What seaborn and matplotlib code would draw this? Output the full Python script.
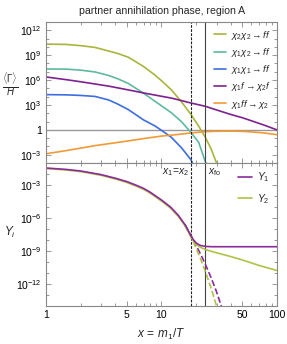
import numpy as np
import pandas as pd
import matplotlib
matplotlib.use('Agg')
import matplotlib.pyplot as plt
import seaborn as sns

# ---- top panel: rates over Hubble (log10 values) ----
x_22 = [1, 1.5, 2, 2.66, 3.5, 4.2, 5.16, 7, 8.79, 10, 12.2, 15, 18, 21, 24, 27, 30, 31]
r_22 = [10.34, 10.3, 10.15, 9.94, 9.5, 9.2, 8.76, 7.64, 6.6, 5.93, 4.82, 3.33, 1.86, 0.45, -0.9, -2.33, -4.0, -4.6]

x_12 = [1, 1.5, 2, 2.66, 3.5, 4.2, 5.16, 7, 8.79, 10, 12.2, 15, 18, 21, 24, 25]
r_12 = [7.34, 7.32, 7.2, 6.98, 6.55, 6.15, 5.6, 4.42, 3.45, 2.9, 2.06, 0.95, -0.31, -1.5, -3.85, -4.5]

x_11 = [1, 1.5, 2, 2.66, 3.5, 4.2, 5.16, 7, 8.79, 10, 12.2, 15, 18, 19]
r_11 = [4.25, 4.22, 4.15, 4.03, 3.6, 3.1, 2.45, 1.2, 0.47, -0.05, -0.9, -2.2, -3.6, -4.3]

x_conv = [1, 1.5, 2, 2.66, 3.5, 5.16, 7, 10, 12.2, 15, 18, 24, 30, 40, 50, 60, 70, 80, 100]
r_conv = [6.38, 6.05, 5.8, 5.53, 5.27, 4.82, 4.45, 4.05, 3.83, 3.52, 3.24, 2.84, 2.4, 1.85, 1.47, 1.1, 0.78, 0.5, 0.0]

x_inv = [1, 1.5, 2, 2.66, 4, 5.16, 7, 10, 14, 18, 24, 30, 40, 50, 60, 70, 80, 100]
r_inv = [-2.88, -2.5, -2.2, -1.9, -1.55, -1.33, -1.05, -0.75, -0.55, -0.37, -0.22, -0.17, -0.15, -0.18, -0.24, -0.32, -0.4, -0.58]

# ---- bottom panel: yields (log10) ----
x_Y = [1, 1.5, 2, 3, 4, 5, 6, 7, 8, 10, 12, 14, 16, 17, 18, 19, 20, 21, 22, 24, 27, 30, 40, 50, 70, 100]
Y1 = [-1.45, -1.58, -1.72, -2.05, -2.38, -2.68, -3.0, -3.3, -3.65, -4.35, -5.0, -5.75, -6.6, -7.1,
      -7.6, -8.0, -8.25, -8.4, -8.5, -8.57, -8.6, -8.6, -8.6, -8.6, -8.6, -8.6]
Y2 = [-1.5, -1.63, -1.78, -2.11, -2.45, -2.76, -3.08, -3.39, -3.74, -4.45, -5.1, -5.85, -6.7, -7.2,
      -7.7, -8.1, -8.35, -8.55, -8.68, -8.85, -9.02, -9.15, -9.5, -9.8, -10.3, -10.76]

x_eq = [16, 17, 18, 19, 20, 22, 24, 27, 30, 33, 35]
Y1_eq = [-6.6, -7.1, -7.6, -8.05, -8.5, -9.35, -10.2, -11.45, -12.7, -14.0, -14.8]
Y2_eq = [-6.7, -7.2, -7.7, -8.22, -8.75, -9.8, -10.85, -12.4, -14.0, -15.5, -16.5]

x_eq_line = 18.0
x_fo = 24.0

c_22 = '#a9b53c'
c_12 = '#5fb9a0'
c_11 = '#3d6de0'
c_conv = '#7e2190'
c_inv = '#f29a36'
c_Y1 = '#8a2c9c'
c_Y2 = '#b2c246'

sns.set_theme(style='ticks')
plt.rcParams['font.family'] = ['Liberation Sans', 'DejaVu Sans']
plt.rcParams['mathtext.fontset'] = 'custom'
plt.rcParams['mathtext.rm'] = 'Liberation Sans'
plt.rcParams['mathtext.it'] = 'Liberation Sans:italic'
plt.rcParams['mathtext.bf'] = 'Liberation Sans:bold'
plt.rcParams['axes.edgecolor'] = '#888888'
plt.rcParams['axes.linewidth'] = 0.8

fig = plt.figure(figsize=(2.87, 3.44), dpi=100)
ax1 = fig.add_axes([0.160, 0.526, 0.805, 0.410])
ax2 = fig.add_axes([0.160, 0.110, 0.805, 0.416])

lw = 1.2
curves = [
    (x_22, r_22, c_22, r'$\chi_2\chi_2 \to ff$'),
    (x_12, r_12, c_12, r'$\chi_1\chi_2 \to ff$'),
    (x_11, r_11, c_11, r'$\chi_1\chi_1 \to ff$'),
    (x_conv, r_conv, c_conv, r'$\chi_1 f \to \chi_2 f$'),
    (x_inv, r_inv, c_inv, r'$\chi_1 ff \to \chi_2$'),
]
for xs, rs, col, lab in curves:
    sns.lineplot(x=xs, y=10.0 ** np.array(rs), ax=ax1, color=col, lw=lw, label=lab,
                 estimator=None, sort=False)

ax1.axhline(1.0, color='#999999', lw=1.0, zorder=1)
for ax in (ax1, ax2):
    ax.axvline(x_eq_line, color='#222222', lw=0.8, ls=(0, (2.5, 1.2)))
    ax.axvline(x_fo, color='#444444', lw=0.8)

sns.lineplot(x=x_eq, y=10.0 ** np.array(Y1_eq), ax=ax2, color=c_Y1, lw=lw, ls='--', estimator=None, sort=False)
sns.lineplot(x=x_eq, y=10.0 ** np.array(Y2_eq), ax=ax2, color=c_Y2, lw=lw, ls='--', estimator=None, sort=False)
sns.lineplot(x=x_Y, y=10.0 ** np.array(Y2), ax=ax2, color=c_Y2, lw=lw, label=r'$Y_2$', estimator=None, sort=False)
sns.lineplot(x=x_Y, y=10.0 ** np.array(Y1), ax=ax2, color=c_Y1, lw=lw, label=r'$Y_1$', estimator=None, sort=False)

for ax in (ax1, ax2):
    ax.set_xscale('log')
    ax.set_yscale('log')
    ax.set_xlim(1, 100)
    ax.tick_params(which='both', direction='in', top=True, right=True, colors='#888888',
                   labelcolor='black', labelsize=7.5, width=0.6, pad=3)
    ax.tick_params(which='major', length=3.5)
    ax.tick_params(which='minor', length=2)
    ax.set_xticks([1, 5, 10, 50, 100])
    ax.set_xticks([2, 3, 4, 6, 7, 8, 9, 20, 30, 40, 60, 70, 80, 90], minor=True)
    ax.set_xticklabels([], minor=True)

ax1.set_ylim(1e-4, 1e13)
ax1.set_yticks([1e-3, 1, 1e3, 1e6, 1e9, 1e12])
ax1.set_yticklabels([r'$10^{-3}$', '1', r'$10^{3}$', r'$10^{6}$', r'$10^{9}$', r'$10^{12}$'])
ax1.set_yticks([10.0 ** k for k in range(-4, 14)], minor=True)
ax1.set_yticklabels([], minor=True)
ax1.set_xticklabels([])

ax2.set_ylim(1e-14, 1e-1)
ax2.set_yticks([1e-12, 1e-9, 1e-6, 1e-3])
ax2.set_yticklabels([r'$10^{-12}$', r'$10^{-9}$', r'$10^{-6}$', r'$10^{-3}$'])
ax2.set_yticks([10.0 ** k for k in range(-14, 0)], minor=True)
ax2.set_yticklabels([], minor=True)
ax2.set_xticklabels(['1', '5', '10', '50', '100'])

ax1.set_ylabel(r'$\frac{\langle\Gamma\rangle}{H}$', rotation=0, fontsize=10, labelpad=0)
ax1.yaxis.set_label_coords(-0.155, 0.46)
ax2.set_ylabel(r'$Y_i$', rotation=0, fontsize=8.5, labelpad=0)
ax2.yaxis.set_label_coords(-0.155, 0.46)
ax2.set_xlabel(r'$x\,=\,m_1/T$', fontsize=8.5, labelpad=5)

ax2.text(x_eq_line * 0.97, 10 ** -1.85, r'$x_1\!=\!x_2$', ha='right', va='center', fontsize=7.5)
ax2.text(x_fo * 1.06, 10 ** -1.85, r'$x_{\rm fo}$', ha='left', va='center', fontsize=7.5)

leg1 = ax1.legend(loc='upper right', frameon=False, fontsize=6.8, handlelength=1.3,
                  handletextpad=0.5, labelspacing=0.45, borderaxespad=0.3)
h, l = ax2.get_legend_handles_labels()
leg2 = ax2.legend(h[::-1], l[::-1], loc='upper right', frameon=False, fontsize=7.5, handlelength=1.3,
                  handletextpad=0.5, labelspacing=0.75, borderaxespad=0.3)

fig.text(0.563, 0.968, 'partner annihilation phase, region A', ha='center', va='center', fontsize=7.6)

fig.savefig('out.png', dpi=100)
